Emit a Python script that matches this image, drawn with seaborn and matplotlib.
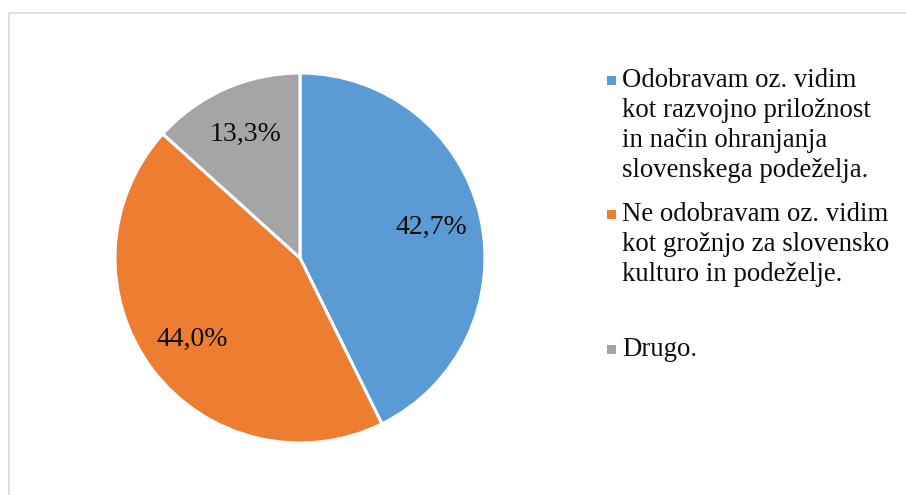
import matplotlib
matplotlib.use("Agg")
import matplotlib.pyplot as plt
from matplotlib.patches import Rectangle
import seaborn as sns

categories = [
    "Odobravam oz. vidim\nkot razvojno priložnost\nin način ohranjanja\nslovenskega podeželja.",
    "Ne odobravam oz. vidim\nkot grožnjo za slovensko\nkulturo in podeželje.",
    "Drugo.",
]
shares = [42.7, 44.0, 13.3]
colors = ["#5B9BD5", "#ED7D31", "#A5A5A5"]

sns.set_theme(style="white")
plt.rcParams["font.family"] = ["Liberation Serif", "DejaVu Serif"]

W, H = 906, 495
fig = plt.figure(figsize=(W / 100, H / 100), dpi=100)

# pie area: center (300, 258) px, radius 185 px
cx, cy, r = 300, 258, 185
ax = fig.add_axes([(cx - r) / W, (H - cy - r) / H, 2 * r / W, 2 * r / H])


def fmt(p):
    return f"{p:.1f}".replace(".", ",") + "%"


wedges, texts, autotexts = ax.pie(
    shares,
    colors=colors,
    startangle=90,
    counterclock=False,
    autopct=fmt,
    pctdistance=0.73,
    wedgeprops=dict(edgecolor="white", linewidth=2.2),
    textprops=dict(fontsize=20, color="#0d0d0d"),
)
ax.set_xlim(-1, 1)
ax.set_ylim(-1, 1)
ax.set_aspect("equal")
ax.axis("off")

# legend drawn as text blocks with square swatches
line_tops = [68, 202, 337]
for label, color, top in zip(categories, colors, line_tops):
    fig.patches.append(Rectangle(((607) / W, 1 - (top + 17) / H), 9 / W, 9 / H,
                                 transform=fig.transFigure, facecolor=color,
                                 edgecolor="none"))
    fig.text(622 / W, 1 - top / H, label, ha="left", va="top",
             fontsize=19.3, color="#0d0d0d", linespacing=1.255)

# outer frame
fig.patches.append(Rectangle((8.5 / W, -0.05), 1.1, 1 - 12.5 / H + 0.05,
                             transform=fig.transFigure, facecolor="none",
                             edgecolor="#D9D9D9", linewidth=1.2))

fig.savefig("out.png", dpi=100)
